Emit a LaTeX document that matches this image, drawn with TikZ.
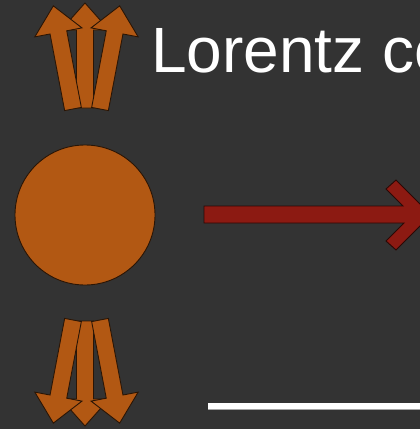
\documentclass[tikz,border=0pt]{standalone}
\usepackage{fontspec}
\setmainfont{Liberation Sans}
\definecolor{bg}{HTML}{333333}
\definecolor{ballorange}{HTML}{B25813}
\definecolor{edgedark}{HTML}{2A1505}
\definecolor{arrowred}{HTML}{8C1A12}
\tikzset{
  orangeshape/.style={fill=ballorange, draw=edgedark, line width=0.9pt, line join=miter},
  blockarrow/.pic={\path[orangeshape] (-8.5,0) -- (-8.5,-78) -- (-24,-78) -- (0,-105) -- (24,-78) -- (8.5,-78) -- (8.5,0) -- cycle;}
}
\begin{document}
\begin{tikzpicture}[x=1pt,y=-1pt]
\useasboundingbox (0,0) rectangle (420,429);
\clip (0,0) rectangle (420,429);
\fill[bg] (0,0) rectangle (420,429);
% upward arrows
\pic[rotate=0] at (85,108) {blockarrow};
\pic[rotate=-10.8] at (100,109) {blockarrow};
\pic[rotate=10.8] at (73,109) {blockarrow};
% downward arrows
\pic[rotate=180] at (85,321) {blockarrow};
\pic[rotate=190.8] at (100,320) {blockarrow};
\pic[rotate=169.2] at (73,320) {blockarrow};
% ball
\node[circle, orangeshape, minimum size=140pt, inner sep=0pt] (ball) at (85,215) {};
% velocity arrow
\path[fill=arrowred, draw=black!70!arrowred, line width=0.9pt, line join=miter]
  (204,206) -- (403,206) -- (386,189) -- (396,180) -- (431,215) -- (396,250) -- (386,241) -- (404,223) -- (204,223) -- cycle;
% title
\node[anchor=base west, inner sep=0pt, text=white, font=\fontsize{64}{70}\selectfont] (title) at (151,72) {Lorentz co};
% scale line
\coordinate (lineA) at (208,406);
\coordinate (lineB) at (430,406);
\draw[gray!70, line width=1.5pt] ([yshift=-3.5pt]lineA) -- ([yshift=-3.5pt]lineB);
\draw[white, line width=6.5pt] (lineA) -- (lineB);
\end{tikzpicture}
\end{document}
